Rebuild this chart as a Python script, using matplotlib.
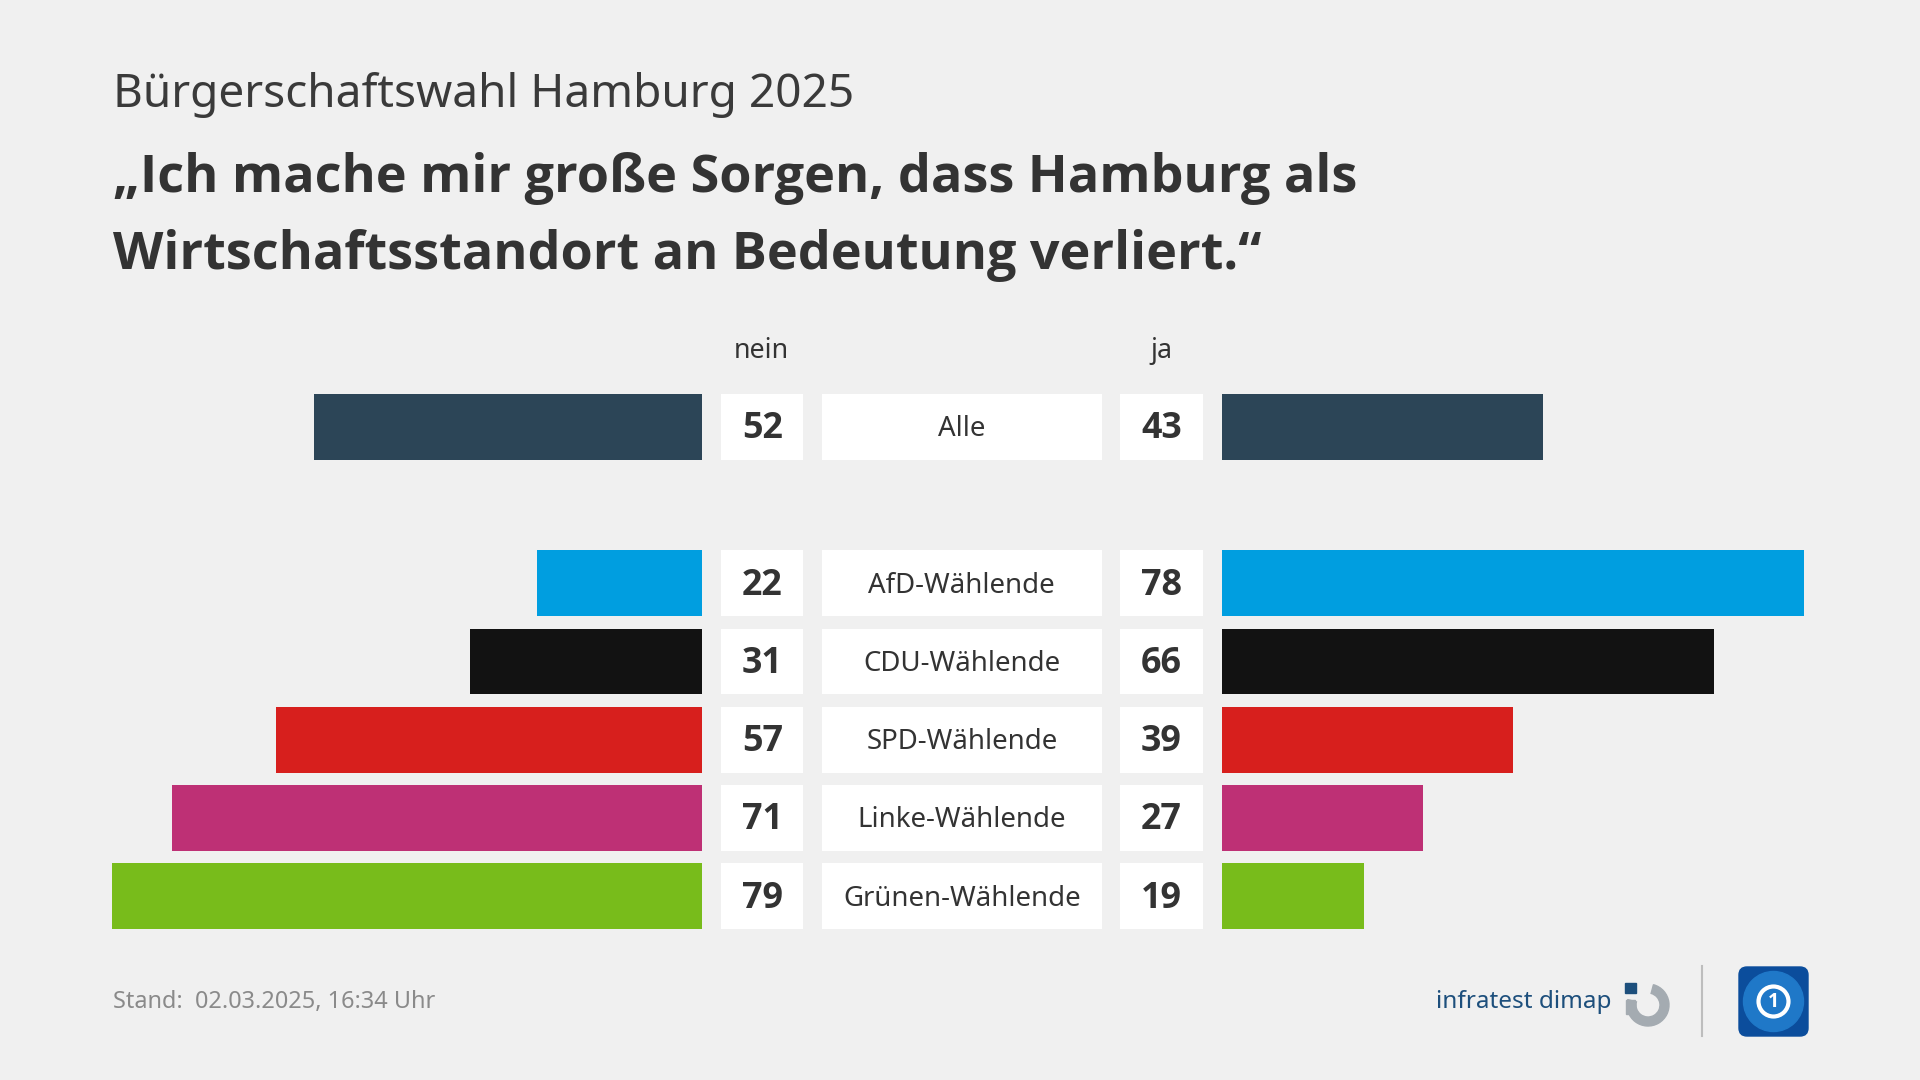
import matplotlib
matplotlib.use('Agg')
import matplotlib.pyplot as plt
from matplotlib import font_manager as fm
from matplotlib.patches import FancyBboxPatch, Circle, Wedge, Rectangle

# ---------------- data ----------------
categories = ['Alle', 'AfD-Wählende', 'CDU-Wählende', 'SPD-Wählende',
              'Linke-Wählende', 'Grünen-Wählende']
nein = [52, 22, 31, 57, 71, 79]
ja = [43, 78, 66, 39, 27, 19]
row_pos = [0, 2, 3, 4, 5, 6]
bar_colors = ['#2c4557', '#009ee0', '#121212', '#d71f1d', '#be3075', '#78bc1b']

subtitle = 'Bürgerschaftswahl Hamburg 2025'
title_lines = ['„Ich mache mir große Sorgen, dass Hamburg als',
               'Wirtschaftsstandort an Bedeutung verliert.“']
footer = 'Stand:  02.03.2025, 16:34 Uhr'
col_heads = ['nein', 'ja']

# ---------------- layout ----------------
W, H = 1920, 1080
BG = '#f0f0f0'
TXT = '#333333'
FONT = 'Noto Sans'


def has_bold(fam):
    try:
        p = fm.findfont(fm.FontProperties(family=fam, weight='bold'),
                        fallback_to_default=False)
    except Exception:
        return False
    return 'bold' in p.lower()


BFONT = next((f for f in ['Noto Sans', 'Open Sans', 'Lato', 'Roboto']
              if has_bold(f)), 'DejaVu Sans')
plt.rcParams['font.family'] = [FONT, 'DejaVu Sans']

fig = plt.figure(figsize=(19.2, 10.8), dpi=100, facecolor=BG)
renderer = fig.canvas.get_renderer()


def px_ax(l, t, r, b, z=1):
    ax = fig.add_axes([l / W, 1 - b / H, (r - l) / W, (b - t) / H], zorder=z)
    ax.set_facecolor('none')
    ax.axis('off')
    return ax


def fit(ax, x, y, s, width, size0=20, **kw):
    t = ax.text(x, y, s, fontsize=size0, **kw)
    bb = t.get_window_extent(renderer)
    t.set_fontsize(size0 * width / bb.width)
    return t


PXU = 7.46          # pixels per percent
XMAX = 80
L_RIGHT, R_LEFT = 701.6, 1222.0
TOP, BOT = 387.5, 935.5
ylim = (6.5, -0.5)
bh = 0.84

# left (nein) bars
axl = px_ax(L_RIGHT - PXU * XMAX, TOP, L_RIGHT, BOT)
axl.set_xlim(XMAX, 0)
axl.set_ylim(*ylim)
axl.barh(row_pos, nein, height=bh, color=bar_colors)

# right (ja) bars
axr = px_ax(R_LEFT, TOP, R_LEFT + PXU * XMAX, BOT)
axr.set_xlim(0, XMAX)
axr.set_ylim(*ylim)
axr.barh(row_pos, ja, height=bh, color=bar_colors)

# middle boxes
axm = px_ax(L_RIGHT, TOP, R_LEFT, BOT)
axm.set_xlim(0, R_LEFT - L_RIGHT)
axm.set_ylim(*ylim)
nb_l, nb_w = 19.6, 82.1
lb_l, lb_w = 120.0, 280.4
jb_l, jb_w = 418.8, 82.1
axm.barh(row_pos, nb_w, left=nb_l, height=bh, color='white')
axm.barh(row_pos, lb_w, left=lb_l, height=bh, color='white')
axm.barh(row_pos, jb_w, left=jb_l, height=bh, color='white')

# font sizes for labels
tmp = fit(axm, 0, 0, 'Grünen-Wählende', 238, family=FONT)
lab_fs = tmp.get_fontsize()
tmp.remove()
tmp = fit(axm, 0, 0, '52', 41, family=BFONT, fontweight='bold')
num_fs = tmp.get_fontsize()
tmp.remove()

for p, c, n, j in zip(row_pos, categories, nein, ja):
    axm.text(lb_l + lb_w / 2, p + 0.03, c, ha='center', va='center',
             fontsize=lab_fs, color=TXT)
    axm.text(nb_l + nb_w / 2, p + 0.03, str(n), ha='center', va='center',
             fontsize=num_fs, fontweight='bold', family=BFONT, color=TXT)
    axm.text(jb_l + jb_w / 2, p + 0.03, str(j), ha='center', va='center',
             fontsize=num_fs, fontweight='bold', family=BFONT, color=TXT)

# ---------------- overlay (texts, logos) ----------------
ov = px_ax(0, 0, W, H, z=5)
ov.set_xlim(0, W)
ov.set_ylim(H, 0)

fit(ov, 112.7, 106.5, subtitle, 742, va='baseline', color='#3a3a3a')
fit(ov, 112.7, 192, title_lines[0], 1243, va='baseline', color=TXT,
    fontweight='bold', family=BFONT)
fit(ov, 112.7, 269, title_lines[1], 1148, va='baseline', color=TXT,
    fontweight='bold', family=BFONT)

t = fit(ov, 761.5, 351, col_heads[0], 55, ha='center', va='center', color=TXT)
ov.text(1161.5, 351, col_heads[1], ha='center', va='center', color=TXT,
        fontsize=t.get_fontsize())

fit(ov, 112.7, 1008, footer, 322, va='baseline', color='#8a8a8a')

# infratest dimap logo
fit(ov, 1436, 1008, 'infratest dimap', 175, va='baseline', color='#1d4f7c',
    fontweight='semibold')
ov.add_patch(Wedge((1648, 1005), 21, -75, 195, width=9, color='#a4abb1'))
ov.add_patch(Rectangle((1625, 983), 11, 10, color='#1d4f7c'))
ov.add_patch(Rectangle((1626, 1000), 9, 14, color='#a4abb1'))

# separator
ov.plot([1702, 1702], [966, 1036], color='#bdbdbd', lw=1.5)

# tagesschau-like icon
ov.add_patch(FancyBboxPatch((1739, 967), 69, 69,
                            boxstyle='round,pad=0,rounding_size=8',
                            color='#0b4d9c'))
ov.add_patch(Circle((1773.5, 1001.5), 30, color='#1f78c8'))
ov.add_patch(Circle((1773.5, 1001.5), 15, facecolor='none',
                    edgecolor='white', lw=3))
ov.text(1773.5, 1002, '1', ha='center', va='center', color='white',
        fontsize=14, fontweight='bold', family=BFONT)

fig.savefig('out.png', dpi=100, facecolor=BG)
